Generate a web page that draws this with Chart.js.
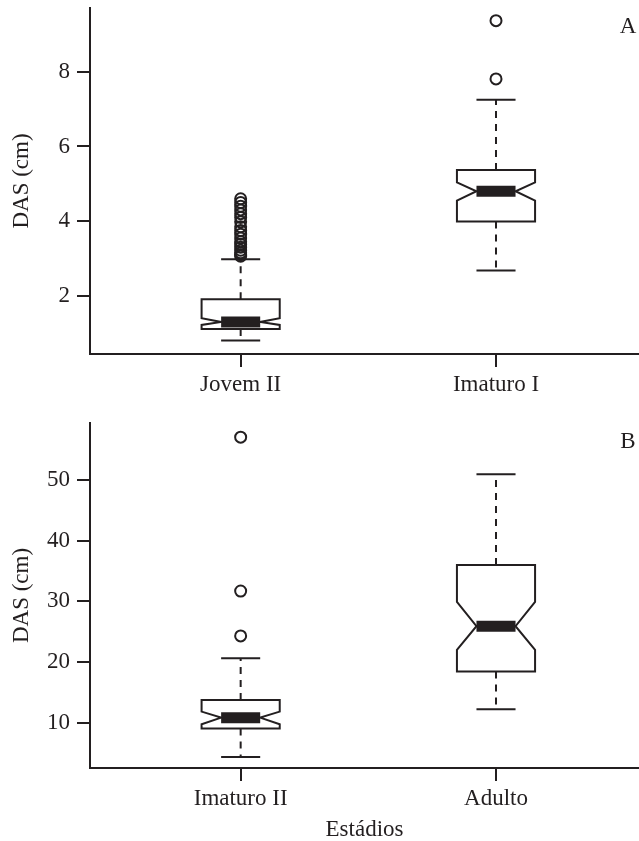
<!DOCTYPE html>
<html lang="pt">
<head>
<meta charset="utf-8">
<title>DAS por estádio</title>
<script src="https://cdn.jsdelivr.net/npm/chart.js@4.4.1/dist/chart.umd.min.js"></script>
<style>
  html, body { margin: 0; padding: 0; background: #fff; }
  #wrap { position: relative; width: 639px; height: 841px; }
  canvas { position: absolute; left: 0; }
  #chartA { top: 0; }
  #chartB { top: 410px; }
</style>
</head>
<body>
<div id="wrap">
  <canvas id="chartA" width="639" height="410"></canvas>
  <canvas id="chartB" width="639" height="431"></canvas>
</div>
<script>
// Panel A - Jovem II / Imaturo I
const catsA = ['Jovem II', 'Imaturo I'];
const whiskLoA = [0.80, 2.68];
const q1A = [1.11, 3.99];
const notchLoA = [1.22, 4.55];
const medA = [1.30, 4.80];
const notchHiA = [1.40, 5.04];
const q3A = [1.91, 5.37];
const whiskHiA = [2.98, 7.25];
const outliersA = [
    [3.06, 3.10, 3.15, 3.22, 3.30, 3.38, 3.45, 3.55, 3.65, 3.75, 3.85, 3.98, 4.10, 4.20, 4.30, 4.40, 4.50, 4.60],
    [7.81, 9.37]
];
const yTicksA = [2, 4, 6, 8];

// Panel B - Imaturo II / Adulto
const catsB = ['Imaturo II', 'Adulto'];
const whiskLoB = [4.3, 12.2];
const q1B = [9.0, 18.4];
const notchLoB = [9.7, 22.0];
const medB = [10.8, 25.9];
const notchHiB = [11.8, 29.9];
const q3B = [13.7, 36.0];
const whiskHiB = [20.6, 51.0];
const outliersB = [
    [24.3, 31.7, 57.1],
    []
];
const yTicksB = [10, 20, 30, 40, 50];

const ink = '#231f20';
const serif = "'Liberation Serif', 'Times New Roman', serif";
const BOX_HALF = 0.153; // half box width, x units

// Notched boxes drawn on the chart's own scales
const notchBoxPlugin = {
    id: 'notchBox',
    beforeDatasetsDraw(chart, args, opts) {
        const { ctx, scales: { x, y } } = chart;
        const py = v => y.getPixelForValue(v);
        ctx.save();
        ctx.strokeStyle = ink;
        ctx.lineWidth = 2;
        for (let i = 0; i < opts.med.length; i++) {
            const cx = x.getPixelForValue(i + 1);
            const hw = x.getPixelForValue(i + 1 + BOX_HALF) - cx;

            // whiskers
            ctx.setLineDash([7, 6]);
            ctx.beginPath();
            ctx.moveTo(cx, py(opts.q3[i]));
            ctx.lineTo(cx, py(opts.hi[i]));
            ctx.moveTo(cx, py(opts.q1[i]));
            ctx.lineTo(cx, py(opts.lo[i]));
            ctx.stroke();
            ctx.setLineDash([]);

            // staples
            ctx.beginPath();
            ctx.moveTo(cx - hw / 2, py(opts.hi[i]));
            ctx.lineTo(cx + hw / 2, py(opts.hi[i]));
            ctx.moveTo(cx - hw / 2, py(opts.lo[i]));
            ctx.lineTo(cx + hw / 2, py(opts.lo[i]));
            ctx.stroke();

            // box with notch
            ctx.beginPath();
            ctx.moveTo(cx - hw, py(opts.q1[i]));
            ctx.lineTo(cx - hw, py(opts.nlo[i]));
            ctx.lineTo(cx - hw / 2, py(opts.med[i]));
            ctx.lineTo(cx - hw, py(opts.nhi[i]));
            ctx.lineTo(cx - hw, py(opts.q3[i]));
            ctx.lineTo(cx + hw, py(opts.q3[i]));
            ctx.lineTo(cx + hw, py(opts.nhi[i]));
            ctx.lineTo(cx + hw / 2, py(opts.med[i]));
            ctx.lineTo(cx + hw, py(opts.nlo[i]));
            ctx.lineTo(cx + hw, py(opts.q1[i]));
            ctx.closePath();
            ctx.fillStyle = '#fff';
            ctx.fill();
            ctx.stroke();

            // median
            ctx.lineWidth = 11;
            ctx.lineCap = 'butt';
            ctx.beginPath();
            ctx.moveTo(cx - hw / 2, py(opts.med[i]));
            ctx.lineTo(cx + hw / 2, py(opts.med[i]));
            ctx.stroke();
            ctx.lineWidth = 2;
        }
        ctx.restore();
    }
};

// Panel letter in the top right corner
const letterPlugin = {
    id: 'panelLetter',
    afterDraw(chart, args, opts) {
        const { ctx, chartArea } = chart;
        ctx.save();
        ctx.fillStyle = ink;
        ctx.font = '23px ' + serif;
        ctx.textAlign = 'center';
        ctx.textBaseline = 'middle';
        ctx.fillText(opts.text, chartArea.right - 11, chartArea.top + 19);
        ctx.restore();
    }
};

function makePanel(id, p) {
    const datasets = p.cats.map((c, i) => ({
        label: c,
        data: p.outliers[i].map(v => ({ x: i + 1, y: v })),
        pointRadius: 5.5,
        pointBorderWidth: 2,
        pointBorderColor: ink,
        pointBackgroundColor: 'rgba(0,0,0,0)'
    }));

    const axisLine = { display: true, color: ink, width: 2 };
    const tickGrid = { display: true, drawOnChartArea: false, drawTicks: true, tickLength: 13, color: ink, lineWidth: 2 };

    return new Chart(document.getElementById(id), {
        type: 'scatter',
        data: { datasets: datasets },
        options: {
            responsive: false,
            animation: false,
            layout: { autoPadding: false, padding: { top: p.padTop, left: 0, right: 0, bottom: 0 } },
            plugins: {
                legend: { display: false },
                tooltip: { enabled: false },
                notchBox: {
                    lo: p.lo, q1: p.q1, nlo: p.nlo, med: p.med, nhi: p.nhi, q3: p.q3, hi: p.hi
                },
                panelLetter: { text: p.letter }
            },
            scales: {
                x: {
                    type: 'linear',
                    min: 0.41,
                    max: 2.56,
                    border: axisLine,
                    grid: tickGrid,
                    afterBuildTicks: axis => { axis.ticks = [{ value: 1 }, { value: 2 }]; },
                    afterFit: axis => {
                        axis.height = p.xHeight;
                        axis.paddingLeft = 0;
                        axis.paddingRight = 0;
                    },
                    ticks: {
                        color: ink,
                        padding: 4,
                        maxRotation: 0,
                        font: { family: serif, size: 23 },
                        callback: v => p.cats[v - 1]
                    },
                    title: {
                        display: !!p.xTitle,
                        text: p.xTitle || '',
                        color: ink,
                        padding: { top: 0, bottom: -3 },
                        font: { family: serif, size: 23 }
                    }
                },
                y: {
                    min: p.yMin,
                    max: p.yMax,
                    border: axisLine,
                    grid: tickGrid,
                    afterBuildTicks: axis => { axis.ticks = p.yTicks.map(v => ({ value: v })); },
                    afterFit: axis => {
                        axis.width = 90;
                        axis.paddingTop = 0;
                        axis.paddingBottom = 0;
                    },
                    ticks: {
                        color: ink,
                        padding: 7,
                        font: { family: serif, size: 23 }
                    },
                    title: {
                        display: true,
                        text: 'DAS (cm)',
                        color: ink,
                        padding: { top: 8, bottom: 0 },
                        font: { family: serif, size: 23 }
                    }
                }
            }
        },
        plugins: [notchBoxPlugin, letterPlugin]
    });
}

makePanel('chartA', {
    cats: catsA, lo: whiskLoA, q1: q1A, nlo: notchLoA, med: medA, nhi: notchHiA, q3: q3A, hi: whiskHiA,
    outliers: outliersA, yTicks: yTicksA, yMin: 0.44, yMax: 9.71,
    padTop: 8, xHeight: 56, letter: 'A'
});

makePanel('chartB', {
    cats: catsB, lo: whiskLoB, q1: q1B, nlo: notchLoB, med: medB, nhi: notchHiB, q3: q3B, hi: whiskHiB,
    outliers: outliersB, yTicks: yTicksB, yMin: 2.49, yMax: 59.44,
    padTop: 13, xHeight: 73, letter: 'B', xTitle: 'Estádios'
});
</script>
</body>
</html>
